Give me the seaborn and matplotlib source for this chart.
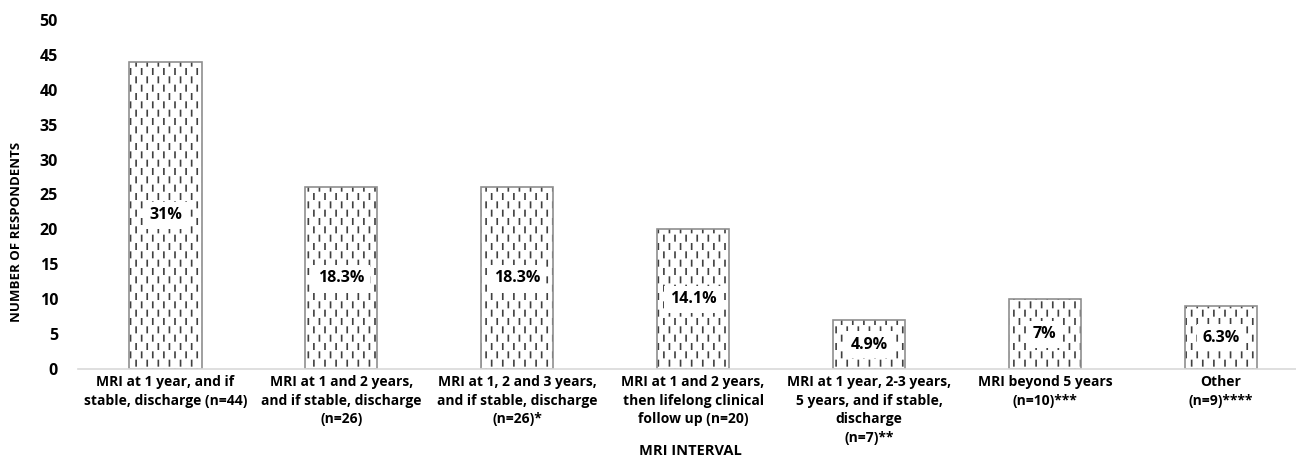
import matplotlib
matplotlib.use("Agg")
import matplotlib.pyplot as plt
import matplotlib.hatch as mhatch
from matplotlib.path import Path
from matplotlib.patches import Rectangle
import seaborn as sns
import pandas as pd

categories = [
    "MRI at 1 year, and if\nstable, discharge (n=44)",
    "MRI at 1 and 2 years,\nand if stable, discharge\n(n=26)",
    "MRI at 1, 2 and 3 years,\nand if stable, discharge\n(n=26)*",
    "MRI at 1 and 2 years,\nthen lifelong clinical\nfollow up (n=20)",
    "MRI at 1 year, 2-3 years,\n5 years, and if stable,\ndischarge\n(n=7)**",
    "MRI beyond 5 years\n(n=10)***",
    "Other\n(n=9)****",
]
respondents = [44, 26, 26, 20, 7, 10, 9]
percent_labels = ["31%", "18.3%", "18.3%", "14.1%", "4.9%", "7%", "6.3%"]
y_ticks = [0, 5, 10, 15, 20, 25, 30, 35, 40, 45, 50]


class DashedColumns(mhatch.HatchPatternBase):
    """Staggered columns of short vertical dashes, used for the '|' hatch."""

    def __init__(self, hatch, density):
        n = hatch.count("|")
        self.cols = 18 if n else 0
        self.rows = 6
        self.num_vertices = self.cols * self.rows * 2

    def set_vertices_and_codes(self, vertices, codes):
        k = 0
        for i in range(self.cols):
            x = (i + 0.5) / self.cols
            off = 0.5 if i % 2 else 0.0
            for j in range(self.rows):
                y0 = (j + off + 0.05) / self.rows
                y1 = y0 + 0.32 / self.rows
                vertices[k] = (x, y0)
                vertices[k + 1] = (x, y1)
                codes[k] = Path.MOVETO
                codes[k + 1] = Path.LINETO
                k += 2


mhatch._hatch_types = [
    DashedColumns if t is mhatch.VerticalHatch else t for t in mhatch._hatch_types
]

sns.set_theme(style="white")
plt.rcParams["font.family"] = ["Open Sans", "DejaVu Sans"]
plt.rcParams["font.weight"] = "bold"
plt.rcParams["hatch.linewidth"] = 1.2

df = pd.DataFrame({"interval": categories, "count": respondents})

fig = plt.figure(figsize=(12.96, 4.63), dpi=100)
ax = fig.add_axes([0.0598, 0.203, 0.95, 0.754])

sns.barplot(data=df, x="interval", y="count", color="white", width=0.41,
            ax=ax, saturation=1)

for bar, pct in zip(ax.patches, percent_labels):
    bar.set_hatch("|")
    bar.set_edgecolor("#404040")
    bar.set_linewidth(0)
    ax.add_patch(Rectangle((bar.get_x(), bar.get_y()), bar.get_width(),
                           bar.get_height(), fill=False, edgecolor="#8f8f8f",
                           linewidth=1.2, zorder=bar.get_zorder() + 0.1))
    ax.text(bar.get_x() + bar.get_width() / 2, bar.get_height() / 2, pct,
            ha="center", va="center", fontsize=11.5, fontweight="bold",
            color="black", zorder=5,
            bbox=dict(boxstyle="square,pad=0.35", facecolor="white",
                      edgecolor="none"))

ax.set_xlim(-0.5, 6.5)
ax.set_ylim(0, 50)
ax.set_yticks(y_ticks)
ax.tick_params(axis="y", length=0, pad=14, labelsize=11.5)
ax.tick_params(axis="x", length=0, pad=4, labelsize=10)
for lab in ax.get_xticklabels() + ax.get_yticklabels():
    lab.set_fontweight("bold")
    lab.set_color("black")
    lab.set_linespacing(1.45)

for side in ["left", "right", "top"]:
    ax.spines[side].set_visible(False)
ax.spines["bottom"].set_color("#d9d9d9")
ax.spines["bottom"].set_linewidth(1.2)
ax.grid(False)

ax.set_xlabel("")
ax.set_ylabel("")
fig.text(0.0131, 0.50, "NUMBER OF RESPONDENTS", rotation=90, ha="center",
         va="center", fontsize=9.5, fontweight="bold", color="black")
fig.text(0.533, 0.026, "MRI INTERVAL", ha="center", va="center",
         fontsize=10.5, fontweight="bold", color="black")

fig.savefig("out.png", dpi=100)
